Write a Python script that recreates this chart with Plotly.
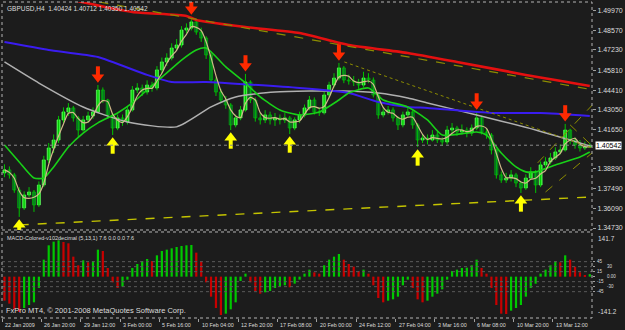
import plotly.graph_objects as go

# ---------------- DATA ----------------
first_open = 1.3860
closes = [1.3881, 1.3846, 1.3740, 1.3614, 1.3705, 1.3726, 1.3635, 1.3775, 1.3951, 1.4035,
          1.4091, 1.4232, 1.4288, 1.4316, 1.4246, 1.4161, 1.4232, 1.4260, 1.4288, 1.4442,
          1.4372, 1.4267, 1.4175, 1.4246, 1.4218, 1.4302, 1.4442, 1.4456, 1.4428, 1.4477,
          1.4456, 1.4583, 1.4639, 1.4667, 1.4737, 1.4758, 1.4863, 1.4877, 1.4920, 1.4849,
          1.4807, 1.4688, 1.4512, 1.4428, 1.4372, 1.4337, 1.4197, 1.4246, 1.4302, 1.4498,
          1.4372, 1.4246, 1.4232, 1.4267, 1.4232, 1.4246, 1.4232, 1.4246, 1.4175, 1.4232,
          1.4267, 1.4316, 1.4372, 1.4288, 1.4282, 1.4407, 1.4477, 1.4526, 1.4597, 1.4512,
          1.4505, 1.4498, 1.4477, 1.4526, 1.4512, 1.4407, 1.4267, 1.4288, 1.4302, 1.4246,
          1.4197, 1.4267, 1.4288, 1.4197, 1.4091, 1.4105, 1.4091, 1.4126, 1.4091, 1.4077,
          1.4161, 1.4175, 1.4147, 1.4161, 1.4140, 1.4175, 1.4246, 1.4147, 1.4126, 1.4021,
          1.3846, 1.3810, 1.3824, 1.3846, 1.3789, 1.3754, 1.3824, 1.3867, 1.3775, 1.3916,
          1.3937, 1.3965, 1.4007, 1.4021, 1.4161, 1.4091, 1.4056, 1.4035, 1.4042, 1.4054]
highs = [1.3920, 1.3905, 1.3860, 1.3760, 1.3730, 1.3760, 1.3740, 1.3800, 1.3980, 1.4070,
         1.4130, 1.4260, 1.4320, 1.4350, 1.4330, 1.4260, 1.4260, 1.4290, 1.4320, 1.4477,
         1.4460, 1.4380, 1.4280, 1.4270, 1.4270, 1.4330, 1.4470, 1.4490, 1.4480, 1.4510,
         1.4500, 1.4610, 1.4670, 1.4700, 1.4770, 1.4800, 1.4890, 1.4910, 1.4955, 1.4940,
         1.4880, 1.4820, 1.4700, 1.4530, 1.4450, 1.4400, 1.4350, 1.4270, 1.4330, 1.4555,
         1.4510, 1.4390, 1.4280, 1.4300, 1.4290, 1.4280, 1.4270, 1.4280, 1.4260, 1.4250,
         1.4290, 1.4340, 1.4400, 1.4390, 1.4320, 1.4430, 1.4500, 1.4560, 1.4632, 1.4610,
         1.4550, 1.4540, 1.4520, 1.4570, 1.4560, 1.4530, 1.4420, 1.4320, 1.4330, 1.4320,
         1.4260, 1.4290, 1.4320, 1.4300, 1.4210, 1.4130, 1.4130, 1.4160, 1.4150, 1.4110,
         1.4190, 1.4210, 1.4190, 1.4200, 1.4180, 1.4200, 1.4288, 1.4260, 1.4170, 1.4140,
         1.4030, 1.3870, 1.3860, 1.3880, 1.3860, 1.3800, 1.3850, 1.3900, 1.3880, 1.3940,
         1.3970, 1.4000, 1.4040, 1.4060, 1.4204, 1.4170, 1.4110, 1.4090, 1.4080, 1.4071]
lows = [1.3830, 1.3820, 1.3720, 1.3551, 1.3600, 1.3690, 1.3586, 1.3620, 1.3760, 1.3930,
        1.4000, 1.4070, 1.4210, 1.4260, 1.4220, 1.4112, 1.4150, 1.4210, 1.4240, 1.4280,
        1.4350, 1.4240, 1.4126, 1.4160, 1.4190, 1.4200, 1.4290, 1.4420, 1.4400, 1.4410,
        1.4430, 1.4440, 1.4560, 1.4610, 1.4650, 1.4720, 1.4740, 1.4840, 1.4860, 1.4830,
        1.4780, 1.4660, 1.4490, 1.4400, 1.4350, 1.4310, 1.4161, 1.4180, 1.4230, 1.4290,
        1.4350, 1.4220, 1.4200, 1.4210, 1.4200, 1.4190, 1.4200, 1.4210, 1.4133, 1.4160,
        1.4210, 1.4250, 1.4300, 1.4270, 1.4260, 1.4270, 1.4390, 1.4460, 1.4510, 1.4490,
        1.4480, 1.4470, 1.4450, 1.4460, 1.4490, 1.4390, 1.4240, 1.4250, 1.4270, 1.4220,
        1.4161, 1.4180, 1.4250, 1.4170, 1.4042, 1.4070, 1.4060, 1.4080, 1.4070, 1.4050,
        1.4060, 1.4140, 1.4120, 1.4130, 1.4110, 1.4120, 1.4160, 1.4130, 1.4100, 1.3990,
        1.3820, 1.3790, 1.3790, 1.3800, 1.3760, 1.3719, 1.3740, 1.3810, 1.3719, 1.3760,
        1.3900, 1.3920, 1.3950, 1.3990, 1.4010, 1.4060, 1.4030, 1.4010, 1.4020, 1.4035]

macd_hist = [-72, -81, -98, -106, -94, -85, -77, -34, 51, 94,
             105, 109, 104, 100, 60, 34, 49, 43, 47, 81,
             77, 26, -17, -34, -30, -9, 26, 38, 47, 53,
             47, 64, 77, 81, 85, 89, 92, 94, 95, 72,
             47, -17, -60, -94, -115, -111, -98, -77, -13, 9,
             -17, -43, -51, -47, -43, -34, -30, -26, -32, -21,
             -9, 9, 21, 13, 9, 34, 51, 60, 68, 51,
             38, 30, 17, 21, 9, -26, -64, -77, -72, -68,
             -60, -26, -9, -34, -68, -77, -72, -60, -51, -38,
             -9, 17, 21, 26, 27, 34, 51, 26, 9, -34,
             -85, -111, -112, -102, -94, -85, -60, -34, -21, 9,
             21, 34, 47, 43, 64, 51, 30, 13, 3, 7.6]

# slow moving averages (sampled at bar numbers)
green_ma_bar = [0, 3, 6, 8, 10, 13, 16, 19, 23, 26, 29, 33, 36, 39, 41, 45, 49, 52, 56, 60,
                64, 68, 70, 74, 77, 82, 86, 89, 94, 96, 98, 101, 104, 106, 108, 112, 117, 119]
green_ma_val = [1.4056, 1.3937, 1.3824, 1.3824, 1.3902, 1.4042, 1.4140, 1.4211, 1.4281, 1.4351,
                1.4442, 1.4562, 1.4652, 1.4723, 1.4737, 1.4604, 1.4491, 1.4393, 1.4302, 1.4267,
                1.4288, 1.4372, 1.4421, 1.4456, 1.4372, 1.4323, 1.4232, 1.4126, 1.4140, 1.4147,
                1.4126, 1.4000, 1.3902, 1.3867, 1.3867, 1.3916, 1.3972, 1.4007]
gray_ma_bar = [0, 7, 16, 25, 35, 42, 47, 55, 69, 76, 82, 86, 96, 108, 119]
gray_ma_val = [1.4639, 1.4491, 1.4323, 1.4218, 1.4183, 1.4323, 1.4393, 1.4428, 1.4435, 1.4421,
               1.4386, 1.4351, 1.4267, 1.4161, 1.4049]
blue_ma_bar = [0, 9, 19, 29, 34, 41, 60, 70, 76, 82, 86, 99, 109, 119]
blue_ma_val = [1.4779, 1.4723, 1.4674, 1.4548, 1.4498, 1.4498, 1.4456, 1.4421, 1.4358, 1.4323,
               1.4316, 1.4281, 1.4281, 1.4260]
red_ma_bar = [10, 16, 26, 37, 39, 49, 60, 70, 82, 92, 106, 112, 119]
red_ma_val = [1.5110, 1.5058, 1.4990, 1.4962, 1.4934, 1.4884, 1.4842, 1.4758, 1.4702, 1.4639,
              1.4548, 1.4512, 1.4470]

# trend lines (bar number, price)
tl_upper_bar, tl_upper_val = [19.3, 120.0], [1.5060, 1.4441]
tl_support_bar, tl_support_val = [3.1, 120.0], [1.3495, 1.3692]
tl_peak_bar, tl_peak_val = [69.1, 119.5], [1.4639, 1.4035]
tl_chan_a_bar, tl_chan_a_val = [108.4, 120.1], [1.3930, 1.4358]
tl_chan_b_bar, tl_chan_b_val = [110.0, 119.7], [1.3726, 1.4007]
tl_desc_bar, tl_desc_val = [115.0, 119.7], [1.4197, 1.4042]

sell_signal_bars = [19, 38, 49, 68, 96, 114]
buy_signal_bars = [3, 22, 46, 58, 84, 105]

price_ticks = [1.3473, 1.3609, 1.3749, 1.3889, 1.4165, 1.4305, 1.4441, 1.4581, 1.4723, 1.4857, 1.4997]
current_price = 1.40542
time_labels = ["22 Jan 2009", "26 Jan 20:00", "29 Jan 12:00", "3 Feb 00:00", "5 Feb 16:00",
               "10 Feb 04:00", "12 Feb 20:00", "17 Feb 08:00", "20 Feb 00:00", "24 Feb 12:00",
               "27 Feb 04:00", "3 Mar 16:00", "6 Mar 08:00", "10 Mar 20:00", "13 Mar 12:00",
               "18 Mar 00:00"]
macd_levels = [45, 30, 15, 0, -15, -30, -45]
macd_level_text = ["45", "30", "15", "0.00", "-15", "-30", "-45"]
macd_max_label, macd_min_label = "141.7", "-141.2"

# ---------------- FIGURE ----------------
n = len(closes)
xs = list(range(n))
opens = [first_open] + closes[:-1]

y_range = [1.3459, 1.5060]
main_dom = [0.2785, 1.0]
macd_dom = [0.0, 0.2722]
macd_range = [-124, 134]
px = (y_range[1] - y_range[0]) / 228.0  # price per pixel in main panel

BG = "#1c1c1c"
FONT = "Liberation Sans, Arial, sans-serif"
TXT = "#dcdcdc"

fig = go.Figure()

# wicks
wx, wy = [], []
for i in xs:
    wx += [i, i, None]
    wy += [lows[i], highs[i], None]
fig.add_trace(go.Scatter(x=wx, y=wy, mode="lines", line=dict(color="#00c400", width=1),
                         hoverinfo="skip"))

# bodies
bull = [c >= o for o, c in zip(opens, closes)]
fig.add_trace(go.Bar(
    x=xs, y=[abs(c - o) for o, c in zip(opens, closes)],
    base=[min(o, c) for o, c in zip(opens, closes)], width=0.62,
    marker=dict(color=["#2bef2b" if b else "#0b4a3a" for b in bull],
                line=dict(color=["#66ff66" if b else "#00c000" for b in bull], width=0.7)),
    xaxis="x", yaxis="y"))

# moving averages
fig.add_trace(go.Scatter(x=gray_ma_bar, y=gray_ma_val, mode="lines",
                         line=dict(color="#b0b0b0", width=1.5, shape="spline", smoothing=0.6)))
fig.add_trace(go.Scatter(x=blue_ma_bar, y=blue_ma_val, mode="lines",
                         line=dict(color="#3a1cf0", width=2, shape="spline", smoothing=0.5)))
fig.add_trace(go.Scatter(x=red_ma_bar, y=red_ma_val, mode="lines",
                         line=dict(color="#e41010", width=2.6, shape="spline", smoothing=0.5)))
fig.add_trace(go.Scatter(x=green_ma_bar, y=green_ma_val, mode="lines",
                         line=dict(color="#18d018", width=1.6, shape="spline", smoothing=0.6)))
tan = []
for i in xs:
    w = closes[max(0, i - 2): i + 1]
    tan.append(sum(w) / len(w))
fig.add_trace(go.Scatter(x=xs, y=tan, mode="lines",
                         line=dict(color="#d2b98a", width=1.2, shape="spline", smoothing=0.6)))

# trend lines
for bx, by, col, dash, wd in [
        (tl_upper_bar, tl_upper_val, "#8c8c00", "dash", 1.2),
        (tl_support_bar, tl_support_val, "#c4c400", "dash", 1.4),
        (tl_peak_bar, tl_peak_val, "#8c8c00", "dot", 1),
        (tl_chan_a_bar, tl_chan_a_val, "#8c8c00", "dash", 1),
        (tl_chan_b_bar, tl_chan_b_val, "#8c8c00", "dash", 1),
        (tl_desc_bar, tl_desc_val, "#8c8c00", "dash", 1)]:
    fig.add_trace(go.Scatter(x=bx, y=by, mode="lines", line=dict(color=col, dash=dash, width=wd)))

# signal arrows
RED, YEL = "#ff2a00", "#ffff00"
sx = sell_signal_bars
fig.add_trace(go.Scatter(x=sx, y=[highs[i] + 13.8 * px for i in sx], mode="markers",
                         marker=dict(symbol="line-ns", size=7, line=dict(color=RED, width=4))))
fig.add_trace(go.Scatter(x=sx, y=[highs[i] + 7.8 * px for i in sx], mode="markers",
                         marker=dict(symbol="triangle-down", size=11, color=RED, line=dict(width=0))))
bx_ = buy_signal_bars
fig.add_trace(go.Scatter(x=bx_, y=[lows[i] - 13.8 * px for i in bx_], mode="markers",
                         marker=dict(symbol="line-ns", size=7, line=dict(color=YEL, width=4))))
fig.add_trace(go.Scatter(x=bx_, y=[lows[i] - 7.8 * px for i in bx_], mode="markers",
                         marker=dict(symbol="triangle-up", size=11, color=YEL, line=dict(width=0))))

# MACD histogram
mcol = ["#00c800" if (i > 0 and v > macd_hist[i - 1]) else "#c80000" for i, v in enumerate(macd_hist)]
fig.add_trace(go.Bar(x=xs, y=macd_hist, width=0.45, marker=dict(color=mcol, line=dict(width=0)),
                     xaxis="x2", yaxis="y2"))

shapes = []
shapes.append(dict(type="line", xref="paper", x0=0, x1=1, yref="y", y0=current_price, y1=current_price,
                   line=dict(color="#8a8a8a", width=1, dash="dot")))
for lv in macd_levels:
    if lv != 0:
        shapes.append(dict(type="line", xref="paper", x0=0, x1=1, yref="y2", y0=lv, y1=lv,
                           line=dict(color="#5a5a5a", width=1, dash="dot")))
for d in (main_dom, macd_dom):
    shapes.append(dict(type="rect", xref="paper", yref="paper", x0=0, x1=1, y0=d[0], y1=d[1],
                       line=dict(color="#b4b4b4", width=1, dash="dot"), fillcolor="rgba(0,0,0,0)"))

ann = []
ann.append(dict(text="GBPUSD,H4  1.40424 1.40712 1.40350 1.40542", xref="paper", yref="paper",
                x=0, y=1, xanchor="left", yanchor="top", xshift=3, yshift=-1, showarrow=False,
                font=dict(size=6.5, color=TXT, family=FONT)))
ann.append(dict(text="MACD-Colored-v102decimal (5,13,1) 7.6 0.0 0.0 7.6", xref="paper", yref="paper",
                x=0, y=macd_dom[1], xanchor="left", yanchor="top", xshift=3, yshift=-1, showarrow=False,
                font=dict(size=5.5, color=TXT, family=FONT)))
ann.append(dict(text="FxPro MT4, © 2001-2008 MetaQuotes Software Corp.", xref="paper", yref="paper",
                x=0, y=0, xanchor="left", yanchor="bottom", xshift=2, yshift=1, showarrow=False,
                font=dict(size=7.5, color=TXT, family=FONT)))
ann.append(dict(text=f"{current_price:.5f}", xref="paper", yref="y", x=1, y=current_price,
                xanchor="left", yanchor="middle", xshift=3, showarrow=False, bgcolor="#ffffff",
                borderpad=0, font=dict(size=7, color="#000000", family=FONT)))
ann.append(dict(text=macd_max_label, xref="paper", yref="paper", x=1, y=macd_dom[1], xanchor="left",
                yanchor="top", xshift=4, yshift=-1, showarrow=False, font=dict(size=6.5, color=TXT, family=FONT)))
ann.append(dict(text=macd_min_label, xref="paper", yref="paper", x=1, y=macd_dom[0], xanchor="left",
                yanchor="bottom", xshift=4, yshift=1, showarrow=False, font=dict(size=6.5, color=TXT, family=FONT)))
for k, (lv, t) in enumerate(zip(macd_levels, macd_level_text)):
    ann.append(dict(text=t, xref="paper", yref="y2", x=1, y=lv, xanchor="left", yanchor="middle",
                    xshift=3 + (10 if k % 2 else 0), showarrow=False,
                    font=dict(size=4.5, color=TXT, family=FONT)))
tick_pos = [8 * k - 0.5 for k in range(len(time_labels))]
for p, t in zip(tick_pos, time_labels):
    ann.append(dict(text=t, xref="x2", yref="paper", x=p, y=0, xanchor="left", yanchor="top",
                    yshift=-2, xshift=1, showarrow=False, font=dict(size=5.4, color=TXT, family=FONT)))

xr = [-0.5, 119.45]
fig.update_layout(
    width=625, height=330, margin=dict(l=2, r=28, t=2, b=12),
    paper_bgcolor=BG, plot_bgcolor=BG, showlegend=False, barmode="overlay",
    shapes=shapes, annotations=ann,
    xaxis=dict(domain=[0, 1], range=xr, anchor="y", showgrid=False, zeroline=False,
               showticklabels=False, ticks=""),
    xaxis2=dict(domain=[0, 1], range=xr, anchor="y2", showgrid=False, zeroline=False,
                showticklabels=False, tickvals=tick_pos, ticks="outside", ticklen=3,
                tickcolor="#a0a0a0"),
    yaxis=dict(domain=main_dom, range=y_range, side="right", showgrid=False, zeroline=False,
               tickvals=price_ticks, ticktext=[f"{v:.5f}" for v in price_ticks],
               ticks="outside", ticklen=3, tickcolor="#a0a0a0",
               tickfont=dict(size=7, color=TXT, family=FONT)),
    yaxis2=dict(domain=macd_dom, range=macd_range, side="right", showgrid=False, zeroline=False,
                tickvals=macd_levels, ticktext=[""] * len(macd_levels),
                ticks="outside", ticklen=2, tickcolor="#a0a0a0"),
)

fig.write_html("out.html")
